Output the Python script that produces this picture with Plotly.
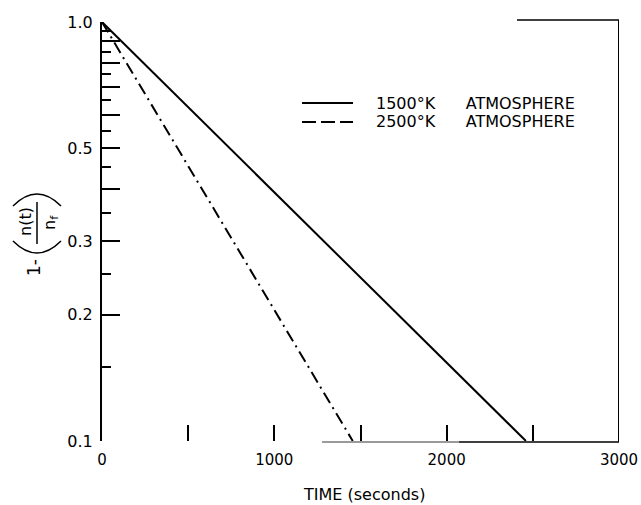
import plotly.graph_objects as go

# ---- data ----
time_1500 = [0, 2460]          # seconds
frac_1500 = [1.0, 0.1]         # 1 - n(t)/n_f
time_2500 = [0, 1455]
frac_2500 = [1.0, 0.1]

SP = "&nbsp;" * 6
series_names = ["1500°K" + SP + "ATMOSPHERE", "2500°K" + SP + "ATMOSPHERE"]

x_tickvals = [0, 500, 1000, 1500, 2000, 2500, 3000]
x_ticktext = ["0", "", "1000", "", "2000", "", "3000"]
y_tickvals = [0.1, 0.2, 0.3, 0.4, 0.5, 0.6, 0.7, 0.8, 0.9, 1.0]
y_ticktext = ["0.1", "0.2", "0.3", "", "0.5", "", "", "", "", "1.0"]
y_minorvals = [0.15, 0.25, 0.35, 0.45, 0.55, 0.65, 0.75, 0.85, 0.95]

FONT = "DejaVu Sans"
W, H = 641, 505
L, R, T, B = 102, 22, 22, 64
PW, PH = W - L - R, H - T - B


def px(x):
    return (x - L) / PW


def py(y):
    return (H - B - y) / PH


fig = go.Figure()
fig.add_trace(go.Scatter(x=time_1500, y=frac_1500, mode="lines",
                         line=dict(color="black", width=2),
                         name="1500°K ATMOSPHERE", showlegend=False))
fig.add_trace(go.Scatter(x=time_2500, y=frac_2500, mode="lines",
                         line=dict(color="black", width=2, dash="12px,5px,2px,5px"),
                         name="2500°K ATMOSPHERE", showlegend=False))

shapes = []
# partial frame: top, right, bottom (as in the original drawing)
shapes.append(dict(type="line", xref="x", yref="paper", x0=2408, x1=3000,
                   y0=py(20), y1=py(20), line=dict(color="black", width=1.5)))
shapes.append(dict(type="line", xref="x", yref="paper", x0=3000, x1=3000,
                   y0=py(20), y1=py(442), line=dict(color="black", width=2)))
shapes.append(dict(type="line", xref="x", yref="paper", x0=1277, x1=2072,
                   y0=py(442), y1=py(442), line=dict(color="#9a9a9a", width=2)))
shapes.append(dict(type="line", xref="x", yref="paper", x0=2072, x1=3000,
                   y0=py(442), y1=py(442), line=dict(color="black", width=1.5)))
# legend samples
shapes.append(dict(type="line", xref="paper", yref="paper", x0=px(302), x1=px(353),
                   y0=py(103), y1=py(103), line=dict(color="black", width=2)))
shapes.append(dict(type="line", xref="paper", yref="paper", x0=px(302), x1=px(353),
                   y0=py(122), y1=py(122), line=dict(color="black", width=2, dash="14px,5px")))
# y-axis title decorations: fraction bar and big parentheses
shapes.append(dict(type="line", xref="paper", yref="paper", x0=px(37), x1=px(37),
                   y0=py(202), y1=py(244), line=dict(color="black", width=1.5)))
shapes.append(dict(type="path", xref="paper", yref="paper",
                   path=f"M {px(13)},{py(206)} Q {px(37)},{py(182)} {px(61)},{py(206)}",
                   line=dict(color="black", width=1.5)))
shapes.append(dict(type="path", xref="paper", yref="paper",
                   path=f"M {px(13)},{py(241)} Q {px(37)},{py(265)} {px(61)},{py(241)}",
                   line=dict(color="black", width=1.5)))

annotations = [
    dict(text=series_names[0], x=px(374), y=py(103), xref="paper", yref="paper",
         xanchor="left", yanchor="middle", showarrow=False,
         font=dict(family=FONT, size=16, color="black")),
    dict(text=series_names[1], x=px(374), y=py(122), xref="paper", yref="paper",
         xanchor="left", yanchor="middle", showarrow=False,
         font=dict(family=FONT, size=16, color="black")),
    dict(text="TIME (seconds)", x=px(364), y=py(494), xref="paper", yref="paper",
         xanchor="center", yanchor="middle", showarrow=False,
         font=dict(family=FONT, size=16, color="black")),
    dict(text="n(t)", x=px(25), y=py(222), xref="paper", yref="paper",
         textangle=-90, xanchor="center", yanchor="middle", showarrow=False,
         font=dict(family=FONT, size=16, color="black")),
    dict(text="n<sub>f</sub>", x=px(50), y=py(223), xref="paper", yref="paper",
         textangle=-90, xanchor="center", yanchor="middle", showarrow=False,
         font=dict(family=FONT, size=16, color="black")),
    dict(text="1-", x=px(34), y=py(268), xref="paper", yref="paper",
         textangle=-90, xanchor="center", yanchor="middle", showarrow=False,
         font=dict(family=FONT, size=17, color="black")),
]

fig.update_layout(
    width=W, height=H,
    margin=dict(l=L, r=R, t=T, b=B, autoexpand=False),
    paper_bgcolor="white", plot_bgcolor="white",
    shapes=shapes, annotations=annotations,
    showlegend=False,
    font=dict(family=FONT, size=15, color="black"),
)
fig.update_xaxes(
    range=[0, 3000], showgrid=False, zeroline=False, showline=False,
    automargin=False,
    tickmode="array", tickvals=x_tickvals, ticktext=x_ticktext,
    ticks="inside", ticklen=16, tickwidth=2, tickcolor="black",
    ticklabelstandoff=8,
    tickfont=dict(family=FONT, size=15, color="black"),
)
fig.update_yaxes(
    type="log", range=[-1, 0], showgrid=False, zeroline=False,
    automargin=False,
    showline=True, linecolor="black", linewidth=2,
    tickmode="array", tickvals=y_tickvals, ticktext=y_ticktext,
    ticks="inside", ticklen=18, tickwidth=1.5, tickcolor="black",
    ticklabelstandoff=4,
    tickfont=dict(family=FONT, size=16, color="black"),
    minor=dict(tickmode="array", tickvals=y_minorvals, ticks="inside",
               ticklen=9, tickwidth=1.5, tickcolor="black", showgrid=False),
)

fig.write_html("out.html")
